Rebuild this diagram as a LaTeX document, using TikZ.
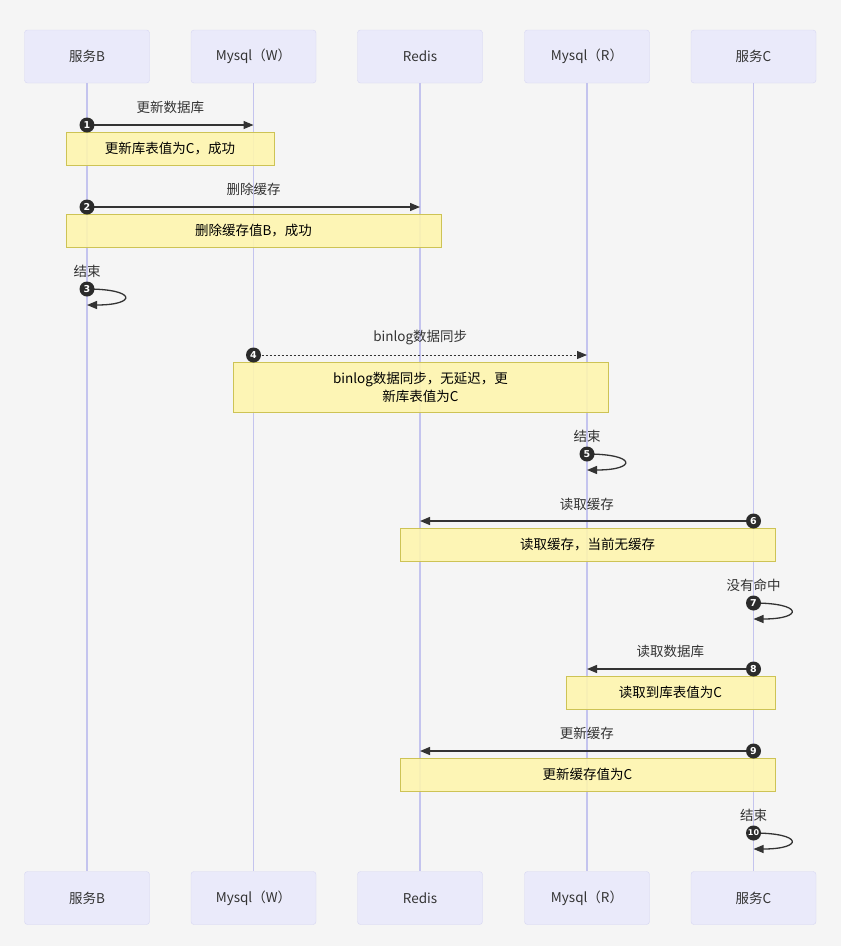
\documentclass[tikz,border=0pt]{standalone}
\usepackage{fontspec}
\setmainfont{Noto Sans CJK SC}
\newfontfamily\numfont{DejaVu Sans}
\usetikzlibrary{arrows.meta, positioning, calc}
\definecolor{seqbg}{RGB}{245,245,245}
\definecolor{actfill}{RGB}{234,234,250}
\definecolor{actline}{RGB}{214,214,242}
\definecolor{lifecol}{RGB}{196,196,238}
\definecolor{notefill}{RGB}{255,245,173}
\definecolor{noteline}{RGB}{205,195,85}
\definecolor{msgcol}{RGB}{51,51,51}

\begin{document}
\begin{tikzpicture}[x=1pt, y=-1pt,
    actor/.style={draw=actline, fill=actfill, rounded corners=3pt, minimum width=125pt,
                  minimum height=53pt, font=\fontsize{13.5}{16}\selectfont, text=msgcol},
    life/.style={draw=lifecol, line width=1.1pt},
    note/.style={draw=noteline, fill=notefill, fill opacity=0.88, text opacity=1,
                 font=\fontsize{13.5}{18}\selectfont, text=black, align=center, line width=0.8pt},
    msg/.style={-{Triangle[length=10pt, width=8pt]}, line width=1.3pt, color=msgcol},
    dotmsg/.style={msg, line width=1pt, dash pattern=on 2pt off 2pt},
    lbl/.style={font=\fontsize{13.5}{16}\selectfont, text=msgcol},
    num/.style={circle, fill=msgcol!85!black, text=white, inner sep=0pt, minimum size=15pt,
                font=\numfont\bfseries\fontsize{9.5}{9.5}\selectfont}
  ]
    \fill[seqbg] (0,0) rectangle (841,946);
    \useasboundingbox (0,0) rectangle (841,946);

    % participants, top and bottom
    \foreach \p/\x/\t in {svcB/87/服务B, mysqlW/253.5/Mysql（W）, redis/420/Redis,
                          mysqlR/587/Mysql（R）, svcC/753.5/服务C} {
      \node[actor] (\p)   at (\x,56.5) {\t};
      \node[actor] (\p-b) at (\x,898)  {\t};
    }

    \foreach \p in {svcB, mysqlW, redis, mysqlR, svcC}
      \draw[life] (\p) -- (\p-b);

    % notes
    \node[note, minimum width=208pt, minimum height=33pt] (note1) at (170,148.5) {更新库表值为C，成功};
    \node[note, minimum width=375pt, minimum height=33pt] (note2) at (253.5,230.5) {删除缓存值B，成功};
    \node[note, minimum width=375pt, minimum height=50pt] (note4) at (420.5,387) {binlog数据同步，无延迟，更\\新库表值为C};
    \node[note, minimum width=375pt, minimum height=33pt] (note6) at (587.5,544.5) {读取缓存，当前无缓存};
    \node[note, minimum width=209pt, minimum height=33pt] (note8) at (670.5,692.5) {读取到库表值为C};
    \node[note, minimum width=375pt, minimum height=33pt] (note9) at (587.5,774.5) {更新缓存值为C};

    % messages
    \draw[msg] (svcB |- 0,125) -- (mysqlW |- 0,125) node[lbl, midway, yshift=18pt] (l1) {更新数据库};
    \draw[msg] (svcB |- 0,207) -- (redis |- 0,207) node[lbl, midway, yshift=18pt] (l2) {删除缓存};
    \draw[dotmsg] (mysqlW |- 0,355) -- (mysqlR |- 0,355) node[lbl, midway, yshift=17pt] (l4) {binlog数据同步};
    \draw[msg] (svcC |- 0,521) -- (redis |- 0,521) node[lbl, midway, yshift=17pt] (l6) {读取缓存};
    \draw[msg] (svcC |- 0,669) -- (mysqlR |- 0,669) node[lbl, midway, yshift=18pt] (l8) {读取数据库};
    \draw[msg] (svcC |- 0,751) -- (redis |- 0,751) node[lbl, midway, yshift=18pt] (l9) {更新缓存};

    % self calls
    \foreach \p/\y/\t/\n in {svcB/289/结束/3, mysqlR/454/结束/5, svcC/603/没有命中/7, svcC/833/结束/10} {
      \coordinate (s\n) at (\p |- 0,\y);
      \coordinate (e\n) at (\p |- 0,\y+16);
      \draw[msg] (s\n) .. controls +(50,0) and +(50,0) .. (e\n);
      \node[lbl] (l\n) at (\p |- 0,\y-18) {\t};
    }

    % step numbers
    \foreach \p/\y/\n in {svcB/125/1, svcB/207/2, svcB/289/3, mysqlW/355/4, mysqlR/454/5,
                          svcC/521/6, svcC/603/7, svcC/669/8, svcC/751/9}
      \node[num] (n\n) at (\p |- 0,\y) {\n};
    \node[num, font=\numfont\bfseries\fontsize{8}{8}\selectfont] (n10) at (svcC |- 0,833) {10};

  \end{tikzpicture}
\end{document}
